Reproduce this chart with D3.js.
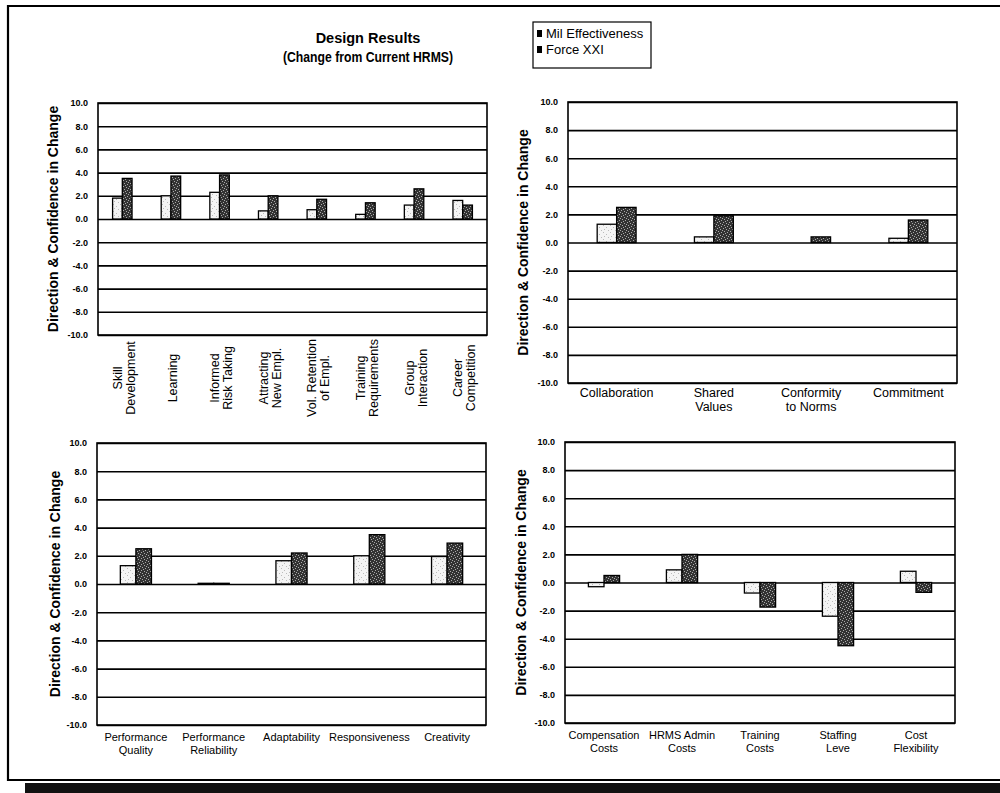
<!DOCTYPE html>
<html><head><meta charset="utf-8">
<script src="https://cdn.jsdelivr.net/npm/d3@7"></script>
<style>
body{margin:0;background:#fff}
svg{display:block}
text{font-family:"Liberation Sans",Arial,Helvetica,sans-serif;fill:#000}
</style>
</head><body>
<svg id="c" width="1000" height="793"></svg>
<script>
// ---------------- data ----------------
const seriesNames = ["Mil Effectiveness", "Force XXI"];
const yTickValues = [10, 8, 6, 4, 2, 0, -2, -4, -6, -8, -10];

const p1Categories = ["Skill|Development", "Learning", "Informed|Risk Taking", "Attracting|New Empl.", "Vol. Retention|of Empl.", "Training|Requirements", "Group|Interaction", "Career|Competition"];
const p1Mil   = [1.8, 2.0, 2.3, 0.7, 0.8, 0.4, 1.2, 1.6];
const p1Force = [3.5, 3.7, 3.8, 2.0, 1.7, 1.4, 2.6, 1.2];

const p2Categories = ["Collaboration", "Shared|Values", "Conformity|to Norms", "Commitment"];
const p2Mil   = [1.3, 0.4, 0.0, 0.3];
const p2Force = [2.5, 1.9, 0.4, 1.6];

const p3Categories = ["Performance|Quality", "Performance|Reliability", "Adaptability", "Responsiveness", "Creativity"];
const p3Mil   = [1.3, 0.05, 1.65, 2.0, 1.95];
const p3Force = [2.5, 0.05, 2.2, 3.5, 2.9];

const p4Categories = ["Compensation|Costs", "HRMS Admin|Costs", "Training|Costs", "Staffing|Leve", "Cost|Flexibility"];
const p4Mil   = [-0.3, 0.9, -0.75, -2.4, 0.8];
const p4Force = [0.5, 2.0, -1.75, -4.5, -0.7];

const titleLines = ["Design Results", "(Change from Current HRMS)"];
const yAxisTitle = "Direction & Confidence in Change";

// ---------------- layout ----------------
const svg = d3.select("#c");

// stipple patterns (print-scan look)
const defs = svg.append("defs");
const pLight = defs.append("pattern").attr("id", "stLight").attr("width", 7).attr("height", 7).attr("patternUnits", "userSpaceOnUse");
pLight.append("rect").attr("width", 7).attr("height", 7).attr("fill", "#f4f4f4");
[[1,1],[4,3],[2,5],[6,6]].forEach(([a,b]) => pLight.append("rect").attr("x", a).attr("y", b).attr("width", 1).attr("height", 1).attr("fill", "#bbb"));
const pDark = defs.append("pattern").attr("id", "stDark").attr("width", 6).attr("height", 6).attr("patternUnits", "userSpaceOnUse");
pDark.append("rect").attr("width", 6).attr("height", 6).attr("fill", "#333");
[[0,1],[3,0],[4,3],[1,4],[5,5],[2,2]].forEach(([a,b]) => pDark.append("rect").attr("x", a).attr("y", b).attr("width", 1).attr("height", 1).attr("fill", "#aaa"));
const seriesFill = ["url(#stLight)", "url(#stDark)"];

// page frame
svg.append("path")
  .attr("d", "M1000,6 L8,6 L8,780 L1000,780")
  .attr("fill", "none").attr("stroke", "#000").attr("stroke-width", 2.2);
svg.append("rect").attr("x", 25).attr("y", 783).attr("width", 975).attr("height", 10).attr("fill", "#111");

// title
svg.append("text").attr("x", 368).attr("y", 43).attr("text-anchor", "middle")
  .attr("font-size", 14.5).attr("font-weight", "bold").text(titleLines[0]);
svg.append("text").attr("x", 368).attr("y", 62).attr("text-anchor", "middle")
  .attr("font-size", 14).attr("font-weight", "bold")
  .attr("textLength", 170).attr("lengthAdjust", "spacingAndGlyphs").text(titleLines[1]);

// legend
const lg = svg.append("g");
lg.append("rect").attr("x", 533).attr("y", 22).attr("width", 118).attr("height", 46)
  .attr("fill", "#fff").attr("stroke", "#000").attr("stroke-width", 1.2);
seriesNames.forEach((s, i) => {
  lg.append("rect").attr("x", 537).attr("y", 30 + i * 16).attr("width", 5).attr("height", 7).attr("fill", "#000");
  lg.append("text").attr("x", 546).attr("y", 38 + i * 16).attr("font-size", 13).text(s);
});

const panels = [
  {cats: p1Categories, mil: p1Mil, force: p1Force, x0: 98, x1: 487, y0: 103, y1: 335, tx: 53, rotated: true, labY: 378, labSize: 12.5, ytSize: 9},
  {cats: p2Categories, mil: p2Mil, force: p2Force, x0: 568, x1: 957, y0: 102, y1: 383, tx: 523, rotated: false, labY: 397, labSize: 12.5, labGap: 14, ytSize: 9},
  {cats: p3Categories, mil: p3Mil, force: p3Force, x0: 97, x1: 486, y0: 443, y1: 725, tx: 55, rotated: false, labY: 741, labSize: 11, labGap: 13, ytSize: 9},
  {cats: p4Categories, mil: p4Mil, force: p4Force, x0: 565, x1: 955, y0: 442, y1: 723, tx: 521, rotated: false, labY: 739, labSize: 11, labGap: 13, ytSize: 9}
];

panels.forEach(cfg => {
  const g = svg.append("g");
  const x = d3.scaleBand().domain(cfg.cats.map((d, i) => i)).range([cfg.x0, cfg.x1]);
  const y = d3.scaleLinear().domain([-10, 10]).range([cfg.y1, cfg.y0]);
  const bw = x.bandwidth() * 0.2;
  const w = cfg.x1 - cfg.x0;

  // gridlines
  g.append("g").attr("transform", `translate(${cfg.x0},0)`)
    .call(d3.axisLeft(y).tickValues(yTickValues).tickSize(-w).tickFormat(""))
    .call(s => s.select(".domain").remove())
    .call(s => s.selectAll("line").attr("stroke", "#000").attr("stroke-width", 1.6));

  // bars
  const rows = [];
  cfg.cats.forEach((c, i) => {
    [cfg.mil[i], cfg.force[i]].forEach((v, k) => rows.push({i, k, v}));
  });
  g.selectAll("rect.bar").data(rows).enter().append("rect")
    .attr("class", "bar")
    .attr("x", d => x(d.i) + x.bandwidth() / 2 - bw + d.k * bw)
    .attr("y", d => y(Math.max(d.v, 0)))
    .attr("width", bw)
    .attr("height", d => Math.abs(y(d.v) - y(0)))
    .attr("fill", d => seriesFill[d.k])
    .attr("stroke", "#000").attr("stroke-width", 1.3);

  // plot border
  g.append("rect").attr("x", cfg.x0).attr("y", cfg.y0).attr("width", w).attr("height", cfg.y1 - cfg.y0)
    .attr("fill", "none").attr("stroke", "#000").attr("stroke-width", 1.6);

  // y tick labels
  g.append("g").attr("transform", `translate(${cfg.x0 - 7},0)`)
    .call(d3.axisLeft(y).tickValues(yTickValues).tickSize(0).tickFormat(d => d.toFixed(1)))
    .call(s => s.select(".domain").remove())
    .call(s => s.selectAll("text").attr("font-size", cfg.ytSize).attr("font-weight", "bold")
      .attr("font-family", '"Liberation Sans",Arial,sans-serif').attr("fill", "#000"));

  // y title
  g.append("text").attr("transform", `translate(${cfg.tx},${(cfg.y0 + cfg.y1) / 2}) rotate(-90)`)
    .attr("text-anchor", "middle").attr("dominant-baseline", "central")
    .attr("font-size", 14).attr("font-weight", "bold").text(yAxisTitle);

  // x labels
  cfg.cats.forEach((c, i) => {
    const lines = c.split("|");
    const cx = x(i) + x.bandwidth() / 2;
    if (cfg.rotated) {
      const t = g.append("text").attr("transform", `translate(${cx + 2},${cfg.labY}) rotate(-90)`)
        .attr("text-anchor", "middle").attr("font-size", cfg.labSize);
      const gap = 13;
      lines.forEach((l, j) => {
        t.append("tspan").attr("x", 0)
          .attr("y", (j - (lines.length - 1) / 2) * gap)
          .attr("dominant-baseline", "central").text(l);
      });
    } else {
      const t = g.append("text").attr("text-anchor", "middle").attr("font-size", cfg.labSize);
      lines.forEach((l, j) => {
        t.append("tspan").attr("x", cx).attr("y", cfg.labY + j * cfg.labGap).text(l);
      });
    }
  });
});
</script>
</body></html>
